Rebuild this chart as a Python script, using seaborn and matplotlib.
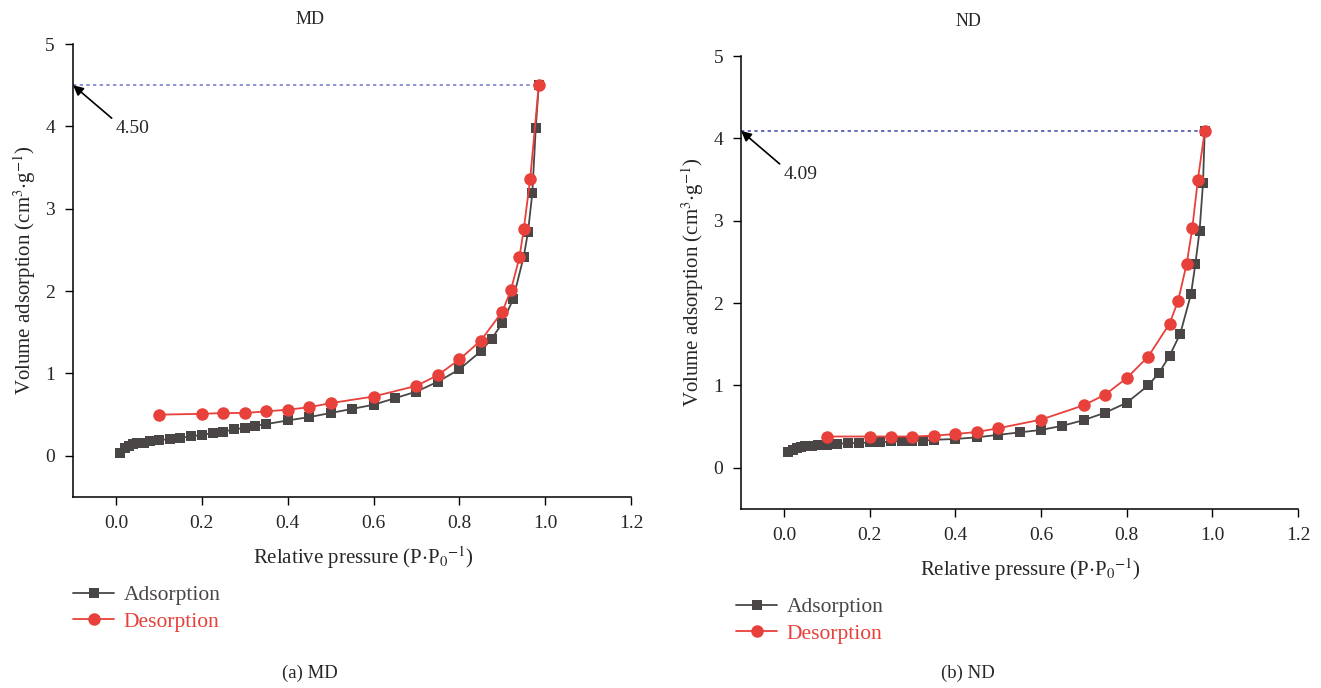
import matplotlib
matplotlib.use('Agg')
import matplotlib.pyplot as plt
import seaborn as sns

# MD sample isotherm
md_ads_x = [0.01, 0.02, 0.03, 0.04, 0.05, 0.065, 0.08, 0.1, 0.125, 0.15, 0.175, 0.2,
            0.225, 0.25, 0.275, 0.3, 0.325, 0.35, 0.4, 0.45, 0.5, 0.55, 0.6, 0.65,
            0.7, 0.75, 0.8, 0.85, 0.875, 0.9, 0.925, 0.95, 0.96, 0.97, 0.978, 0.985]
md_ads_y = [0.04, 0.09, 0.12, 0.14, 0.15, 0.16, 0.175, 0.19, 0.205, 0.22, 0.235, 0.255,
            0.275, 0.295, 0.32, 0.34, 0.365, 0.385, 0.43, 0.47, 0.52, 0.57, 0.62, 0.70,
            0.78, 0.90, 1.05, 1.27, 1.42, 1.61, 1.90, 2.42, 2.72, 3.19, 3.98, 4.50]
md_des_x = [0.1, 0.2, 0.25, 0.3, 0.35, 0.4, 0.45, 0.5, 0.6, 0.7, 0.75, 0.8, 0.85,
            0.9, 0.92, 0.94, 0.95, 0.965, 0.985]
md_des_y = [0.50, 0.51, 0.52, 0.52, 0.54, 0.56, 0.59, 0.64, 0.72, 0.85, 0.98, 1.17,
            1.40, 1.75, 2.01, 2.41, 2.75, 3.36, 4.50]

# ND sample isotherm
nd_ads_x = [0.01, 0.02, 0.03, 0.04, 0.05, 0.065, 0.08, 0.1, 0.125, 0.15, 0.175, 0.2,
            0.225, 0.25, 0.275, 0.3, 0.325, 0.35, 0.4, 0.45, 0.5, 0.55, 0.6, 0.65,
            0.7, 0.75, 0.8, 0.85, 0.875, 0.9, 0.925, 0.95, 0.96, 0.97, 0.978, 0.982]
nd_ads_y = [0.19, 0.22, 0.24, 0.25, 0.26, 0.27, 0.275, 0.28, 0.29, 0.30, 0.30, 0.31,
            0.31, 0.32, 0.32, 0.33, 0.33, 0.34, 0.35, 0.37, 0.40, 0.43, 0.46, 0.51,
            0.58, 0.67, 0.79, 1.00, 1.15, 1.36, 1.63, 2.11, 2.47, 2.88, 3.46, 4.09]
nd_des_x = [0.1, 0.2, 0.25, 0.3, 0.35, 0.4, 0.45, 0.5, 0.6, 0.7, 0.75, 0.8, 0.85,
            0.9, 0.92, 0.94, 0.953, 0.966, 0.982]
nd_des_y = [0.38, 0.38, 0.38, 0.38, 0.39, 0.41, 0.435, 0.48, 0.585, 0.76, 0.89, 1.09,
            1.35, 1.75, 2.03, 2.48, 2.91, 3.50, 4.09]

x_ticks = [0.0, 0.2, 0.4, 0.6, 0.8, 1.0, 1.2]
y_ticks = [0, 1, 2, 3, 4, 5]

ADS_COLOR = '#4a4646'
DES_COLOR = '#e8403a'

sns.set_style('ticks')
plt.rcParams['font.family'] = ['Liberation Serif', 'DejaVu Serif']
plt.rcParams['mathtext.fontset'] = 'stix'

fig = plt.figure(figsize=(13.21, 6.88), dpi=100)
ax1 = fig.add_axes([0.0553, 0.2776, 0.4224, 0.6584])
ax2 = fig.add_axes([0.561, 0.2602, 0.4217, 0.6584])


def draw_panel(ax, ads_x, ads_y, des_x, des_y, ref_color, leg_x):
    sns.lineplot(x=ads_x, y=ads_y, ax=ax, sort=False, color=ADS_COLOR, lw=1.3,
                 marker='s', markersize=7, markeredgewidth=0, label='Adsorption')
    sns.lineplot(x=des_x, y=des_y, ax=ax, sort=False, color=DES_COLOR, lw=1.3,
                 marker='o', markersize=9, markeredgewidth=0, label='Desorption')
    peak = max(ads_y)
    # dotted reference line to the y axis
    ax.hlines(peak, -0.1, ads_x[-1], colors=ref_color, linestyles=(0, (2, 2)), lw=1.2, zorder=1)
    ax.annotate('', xy=(-0.1, peak), xytext=(-0.01, peak - 0.4),
                arrowprops=dict(arrowstyle='-|>', color='black', lw=1.2,
                                mutation_scale=15, shrinkA=0, shrinkB=0),
                annotation_clip=False)
    ax.text(0.0, peak - 0.53, f'{peak:.2f}', ha='left', va='center', fontsize=14)

    ax.set_xlim(-0.1, 1.2)
    ax.set_ylim(-0.5, 5)
    ax.set_xticks(x_ticks)
    ax.set_xticklabels([f'{t:.1f}' for t in x_ticks])
    ax.set_yticks(y_ticks)
    ax.tick_params(labelsize=14, length=6, width=1, color='black', pad=7)
    for s in ['left', 'bottom']:
        ax.spines[s].set_color('black')
        ax.spines[s].set_linewidth(1.1)
    sns.despine(ax=ax)
    ax.set_xlabel(r'Relative pressure (P$\cdot$P$_0$$^{-1}$)', fontsize=15, labelpad=7)
    ax.xaxis.set_label_coords(0.52, -0.105)
    ax.set_ylabel(r'Volume adsorption (cm$^3$$\cdot$g$^{-1}$)', fontsize=15, labelpad=5)
    ax.legend(loc='upper left', bbox_to_anchor=(leg_x, -0.195), frameon=False,
              labelcolor='linecolor', fontsize=15.5, handlelength=1.9,
              handletextpad=0.45, labelspacing=0.3, borderaxespad=0, borderpad=0)


draw_panel(ax1, md_ads_x, md_ads_y, md_des_x, md_des_y, '#7a7ed0', 0.0)
draw_panel(ax2, nd_ads_x, nd_ads_y, nd_des_x, nd_des_y, '#4b53b3', -0.009)

fig.text(310 / 1321, 1 - 20 / 688, 'MD', ha='center', va='center', fontsize=13)
fig.text(968 / 1321, 1 - 22 / 688, 'ND', ha='center', va='center', fontsize=13)
fig.text(310 / 1321, 1 - 673 / 688, '(a) MD', ha='center', va='center', fontsize=13.5)
fig.text(968 / 1321, 1 - 673 / 688, '(b) ND', ha='center', va='center', fontsize=13.5)

fig.savefig('out.png', dpi=100)
